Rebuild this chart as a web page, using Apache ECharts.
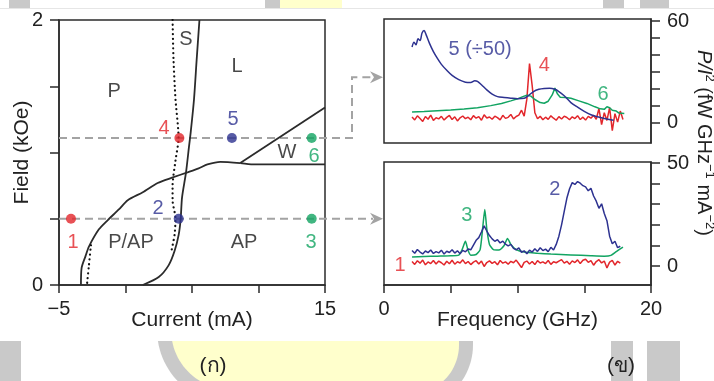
<!DOCTYPE html>
<html>
<head>
<meta charset="utf-8">
<script src="https://cdn.jsdelivr.net/npm/echarts@6/dist/echarts.min.js"></script>
<style>
  html, body { margin: 0; padding: 0; background: #ffffff; }
  #chart { width: 714px; height: 381px; }
</style>
</head>
<body>
<div id="chart"></div>
<script>
// ---------------- data ----------------
// Phase diagram: measurement points (current in mA, field in kOe)
const pointTags = ['1', '2', '3', '4', '5', '6'];
const pointCurrent = [-4.1, 4.0, 14.0, 4.05, 8.0, 14.0];
const pointField = [0.5, 0.5, 0.5, 1.11, 1.11, 1.11];
const fieldLow = 0.5;
const fieldHigh = 1.11;

// Phase boundaries [current, field]
const boundaryLeft = [[5.56, 2.0], [5.35, 1.7], [5.15, 1.4], [4.9, 1.15], [4.77, 1.04], [4.55, 0.85],
  [4.25, 0.66], [4.15, 0.5], [4.0, 0.38], [3.7, 0.26], [3.25, 0.15], [2.5, 0.06], [1.3, 0]];
const boundaryLower = [[-3.35, 0], [-3.3, 0.13], [-3.0, 0.22], [-2.75, 0.29], [-2.0, 0.42], [-1.33, 0.49],
  [-0.5, 0.57], [0.17, 0.64], [1.3, 0.7], [2.42, 0.77], [3.5, 0.81], [4.66, 0.85], [5.5, 0.88],
  [6.16, 0.91], [7.13, 0.93], [8.63, 0.92]];
const boundaryFlat = [[8.63, 0.92], [9.6, 0.91], [15, 0.91]];
const boundaryDiagonal = [[8.63, 0.92], [15, 1.34]];
const dottedUpper = [[3.54, 2.0], [3.61, 1.7], [3.76, 1.4], [3.99, 1.11], [3.76, 0.94], [3.54, 0.75],
  [3.54, 0.64], [3.76, 0.5], [3.69, 0.38], [3.46, 0.26]];
const dottedLower = [[-2.6, 0.30], [-2.75, 0.15], [-2.9, 0]];

// Region names inside the phase diagram
const regionNames = ['P', 'S', 'L', 'W', 'P/AP', 'AP'];
const regionCurrent = [-0.86, 4.55, 8.38, 12.14, 0.41, 8.91];
const regionField = [1.46, 1.85, 1.65, 1.0, 0.32, 0.32];
const tagCurrent = [-3.95, 2.44, 13.95, 2.89, 8.08, 14.17];
const tagField = [0.32, 0.58, 0.32, 1.18, 1.25, 0.97];

// Spectra: sweep frequencies (GHz) of the noisy traces
const sweepGHz = [2.1, 2.3, 2.5, 2.7, 2.9, 3.1, 3.3, 3.5, 3.7, 3.9, 4.1, 4.3, 4.5, 4.7, 4.9, 5.1, 5.3, 5.5, 5.7, 5.9,
  6.1, 6.3, 6.5, 6.7, 6.9, 7.1, 7.3, 7.5, 7.7, 7.9, 8.1, 8.3, 8.5, 8.7, 8.9, 9.1, 9.3, 9.5, 9.7, 9.9,
  10.1, 10.3, 10.5, 10.7, 10.9, 11.1, 11.3, 11.5, 11.7, 11.9, 12.1, 12.3, 12.5, 12.7, 12.9, 13.1, 13.3, 13.5, 13.7, 13.9,
  14.1, 14.3, 14.5, 14.7, 14.9, 15.1, 15.3, 15.5, 15.7, 15.9, 16.1, 16.3, 16.5, 16.7, 16.9, 17.1, 17.3, 17.5, 17.7, 17.9];

// Upper spectra (points 4, 5, 6)
const trace4 = [3.5, 1.8, 4.2, 2.6, 0.9, 3.8, 2.2, 4.6, 1.5, 3.1,
  2.4, 3.9, 1.7, 3.3, 4.4, 2.0, 3.6, 1.2, 3.0, 4.1,
  2.5, 3.4, 1.9, 4.3, 2.8, 3.7, 1.6, 4.8, 2.9, 3.5,
  2.2, 4.0, 3.1, 1.8, 4.5, 2.7, 3.3, 5.0, 2.4, 3.8,
  4.6, 7.5, 4.0, 14.0, 35.0, 22.0, 6.0, 2.5, 3.9, 1.9,
  3.4, 2.1, 4.2, 2.8, 1.6, 3.7, 2.3, 4.0, 3.2, 1.9,
  3.6, 2.6, 4.3, 2.0, 3.4, 1.7, 3.9, 2.8, 4.5, 2.2,
  8.5, -1.0, 6.0, 1.5, 9.0, -4.5, 5.5, 0.5, 7.0, 2.0];
const trace5 = [[2.1, 44.7], [2.25, 47.5], [2.4, 46], [2.55, 49.5], [2.7, 48.5], [2.85, 53], [3.0, 54.5],
  [3.15, 52], [3.4, 47], [3.7, 42], [4.0, 38], [4.3, 34.5], [4.7, 31], [5.1, 28], [5.6, 25.5], [6.1, 24],
  [6.5, 23.8], [6.8, 24.8], [7.0, 24.5], [7.3, 22.5], [7.7, 19.5], [8.1, 17], [8.5, 15.5], [9.0, 15],
  [9.5, 14.6], [10.0, 14.3], [10.5, 14.5], [10.8, 16], [11.2, 18.5], [11.6, 19.8], [12.0, 20.3],
  [12.4, 20.4], [12.8, 19.8], [13.1, 18.5], [13.5, 16], [14.0, 12], [14.5, 9.3], [15.0, 6.8],
  [15.5, 4.8], [16.0, 3.6], [16.5, 2.6], [17.2, 1.6]];
const trace6 = [[2.1, 6.5], [3.0, 6.8], [4.0, 7.2], [5.0, 7.6], [6.0, 8.2], [7.0, 9.0], [8.0, 10.2],
  [8.8, 11.5], [9.5, 13.0], [10.0, 14.2], [10.4, 15.5], [10.7, 16.3], [11.0, 15.8], [11.3, 13.8],
  [11.7, 12.0], [12.0, 11.6], [12.3, 12.8], [12.6, 16.5], [12.8, 20.5], [13.0, 17.0], [13.2, 15.2],
  [13.6, 15.0], [14.0, 14.5], [14.6, 13.0], [15.2, 11.5], [15.8, 9.5], [16.2, 8.3], [16.5, 8.0],
  [16.7, 9.5], [16.9, 9.0], [17.1, 7.5], [17.4, 7.0], [17.6, 5.8], [18.0, 5.5]];

// Lower spectra (points 1, 2, 3)
const trace1 = [2.2, 0.8, 2.6, 1.4, 2.9, 0.6, 2.0, 1.2, 2.7, 1.0,
  2.4, 1.6, 0.5, 2.3, 1.1, 2.8, 0.9, 2.1, 1.5, 3.0,
  1.2, 2.2, 0.7, 1.9, 2.6, 1.0, 2.4, -0.2, 1.7, 2.5,
  1.3, 2.1, 0.6, 2.7, 1.4, 2.0, 0.9, 2.3, 1.6, 2.9,
  1.1, -0.8, 1.8, 2.4, 1.0, 2.2, 0.7, 2.6, 1.5, 2.0,
  1.2, 2.7, 0.8, 2.1, 1.6, 2.4, 3.1, 1.4, 2.3, 0.9,
  2.5, 1.7, 3.0, 1.2, 2.8, 3.3, 1.8, 2.6, 0.4, 2.2,
  3.1, 1.5, 2.4, -0.9, 1.9, 2.7, 0.5, 2.3, 1.4];
const trace2 = [7.5, 6.2, 8.0, 6.8, 5.9, 7.3, 6.5, 7.8, 6.1, 7.0,
  6.4, 7.7, 5.8, 7.2, 6.6, 7.9, 6.3, 7.4, 6.0, 7.6,
  6.9, 8.3, 7.9, 10.2, 12.5, 13.8, 16.5, 19.5, 17.0, 14.8,
  13.2, 12.0, 12.8, 11.2, 12.1, 10.6, 9.8, 10.5, 8.6, 7.9,
  8.8, 6.7, 7.4, 6.0, 7.7, 6.8, 8.4, 7.1, 8.9, 7.5,
  8.2, 7.0, 9.1, 7.8, 10.5, 14.5, 20.0, 26.5, 33.0, 37.5,
  40.5, 39.6, 41.0, 40.2, 39.0, 38.4, 36.5, 37.8, 34.0, 31.5,
  28.0, 30.2, 25.5, 22.0, 14.5, 10.8, 12.0, 8.9, 9.6];
const trace3 = [[2.1, 4.4], [3.0, 4.6], [4.0, 4.8], [5.0, 5.0], [5.6, 5.3], [5.85, 8.0], [6.1, 12.0],
  [6.3, 7.5], [6.5, 5.3], [6.9, 5.6], [7.2, 8.0], [7.4, 19.0], [7.55, 27.5], [7.7, 18.0], [7.9, 10.5],
  [8.2, 8.0], [8.6, 7.8], [9.0, 10.0], [9.25, 13.4], [9.5, 10.5], [9.9, 8.0], [10.5, 6.8], [11.5, 6.2],
  [12.5, 5.8], [14.0, 5.4], [15.5, 5.0], [16.5, 4.8], [17.0, 5.2], [17.4, 7.0], [17.9, 9.2]];

// Trace tags [text, GHz, value]
const upperTags = ['5 (\u00f750)', '4', '6'];
const upperTagGHz = [7.2, 12.0, 16.4];
const upperTagValue = [43.5, 34, 17];
const lowerTags = ['2', '3', '1'];
const lowerTagGHz = [12.8, 6.2, 1.2];
const lowerTagValue = [37.4, 24.3, 0.5];

// Labelled ticks
const currentLabelTicks = [-5, 15];
const fieldLabelTicks = [0, 2];
const freqLabelTicks = [0, 20];
const upperPowerTicks = [0, 10, 20, 30, 40, 50, 60];
const upperPowerLabelTicks = [0, 60];
const lowerPowerTicks = [0, 10, 20, 30, 40, 50];
const lowerPowerLabelTicks = [0, 50];

// ---------------- styling ----------------
const RED = '#e2262b';
const BLUE = '#2d3290';
const GREEN = '#12a462';
const INK = '#2b2b2b';
const DASH = '#a3a3a3';
const FONT = "'Liberation Sans', Arial, 'Noto Sans', 'DejaVu Sans', sans-serif";
const tagColors = [RED, BLUE, GREEN, RED, BLUE, GREEN];

const gridLeft = { left: 59, top: 20, width: 266, height: 265 };
const gridUpper = { left: 384, top: 19, width: 267, height: 124 };
const gridLower = { left: 384, top: 162, width: 267, height: 123 };

const axisLineStyle = { color: INK, width: 1.5 };
const labelText = { fontFamily: FONT, fontSize: 20, color: '#222' };
const nameText = { fontFamily: FONT, fontSize: 21, color: '#222' };

function minusFmt(v) { return v < 0 ? '\u2212' + Math.abs(v) : String(v); }
function onlyTicks(list) { return v => (list.indexOf(v) >= 0 ? minusFmt(v) : ''); }
function pairs(xs, ys) { return ys.map((y, i) => [xs[i], y]); }

function boundary(data, dotted) {
  return {
    type: 'line', xAxisIndex: 0, yAxisIndex: 0, data, symbol: 'none', silent: true,
    smooth: 0.25, z: 3,
    lineStyle: dotted
      ? { color: '#111', width: 2.2, type: [0.1, 4.6], cap: 'round' }
      : { color: INK, width: 1.8 }
  };
}
function trace(axis, data, color) {
  return {
    type: 'line', xAxisIndex: axis, yAxisIndex: axis, data, symbol: 'none', silent: true,
    lineStyle: { color, width: 1.5 }, z: 3
  };
}
function tagSeries(axis, names, xs, ys, colors) {
  return {
    type: 'scatter', xAxisIndex: axis, yAxisIndex: axis, silent: true, z: 6,
    symbolSize: 1, itemStyle: { color: 'transparent' },
    data: names.map((n, i) => ({
      name: n, value: [xs[i], ys[i]],
      label: { color: colors ? colors[i] : '#1a1a1a' }
    })),
    label: { show: true, position: 'inside', formatter: '{b}', fontFamily: FONT, fontSize: 20 }
  };
}

const boxGrid = { show: true, borderColor: INK, borderWidth: 1.5, backgroundColor: 'transparent' };
const option = {
  animation: false,
  backgroundColor: '#ffffff',
  textStyle: { fontFamily: FONT },
  grid: [
    Object.assign({}, boxGrid, gridLeft),
    Object.assign({}, boxGrid, gridUpper),
    Object.assign({}, boxGrid, gridLower)
  ],
  xAxis: [
    {
      gridIndex: 0, type: 'value', min: -5, max: 15, interval: 5,
      axisLine: { onZero: false, lineStyle: axisLineStyle },
      axisTick: { length: 8, lineStyle: axisLineStyle },
      axisLabel: Object.assign({ formatter: onlyTicks(currentLabelTicks), margin: 14 }, labelText),
      splitLine: { show: false },
      name: 'Current (mA)', nameLocation: 'middle', nameGap: 25, nameMoveOverlap: false,
      nameTextStyle: nameText
    },
    {
      gridIndex: 1, type: 'value', min: 0, max: 20,
      axisLine: { show: false, onZero: false }, axisTick: { show: false }, axisLabel: { show: false },
      splitLine: { show: false }
    },
    {
      gridIndex: 2, type: 'value', min: 0, max: 20, interval: 5,
      axisLine: { onZero: false, lineStyle: axisLineStyle },
      axisTick: { length: 8, lineStyle: axisLineStyle },
      axisLabel: Object.assign({ formatter: onlyTicks(freqLabelTicks), margin: 14 }, labelText),
      splitLine: { show: false },
      name: 'Frequency (GHz)', nameLocation: 'middle', nameGap: 25, nameMoveOverlap: false,
      nameTextStyle: nameText
    }
  ],
  yAxis: [
    {
      gridIndex: 0, type: 'value', min: 0, max: 2, interval: 0.5,
      axisLine: { onZero: false, lineStyle: axisLineStyle },
      axisTick: { length: 9, lineStyle: axisLineStyle },
      axisLabel: Object.assign({ formatter: onlyTicks(fieldLabelTicks), margin: 16 }, labelText),
      splitLine: { show: false },
      name: 'Field (kOe)', nameLocation: 'middle', nameGap: 26, nameRotate: 90, nameMoveOverlap: false,
      nameTextStyle: nameText
    },
    {
      gridIndex: 1, type: 'value', position: 'right', min: -11.8, max: 61.2,
      axisLine: { show: true, onZero: false, lineStyle: axisLineStyle },
      axisTick: { show: true, length: 9, lineStyle: axisLineStyle, customValues: upperPowerTicks },
      axisLabel: Object.assign({ customValues: upperPowerLabelTicks, margin: 16 }, labelText),
      splitLine: { show: false }
    },
    {
      gridIndex: 2, type: 'value', position: 'right', min: -9.2, max: 50.5,
      axisLine: { show: true, onZero: false, lineStyle: axisLineStyle },
      axisTick: { show: true, length: 9, lineStyle: axisLineStyle, customValues: lowerPowerTicks },
      axisLabel: Object.assign({ customValues: lowerPowerLabelTicks, margin: 16 }, labelText),
      splitLine: { show: false }
    }
  ],
  series: [
    boundary(boundaryLeft, false),
    boundary(boundaryLower, false),
    boundary(boundaryFlat, false),
    boundary(boundaryDiagonal, false),
    boundary(dottedUpper, true),
    boundary(dottedLower, true),
    {
      type: 'scatter', xAxisIndex: 0, yAxisIndex: 0, silent: true, z: 5, symbolSize: 10,
      data: pointTags.map((t, i) => ({ value: [pointCurrent[i], pointField[i]], itemStyle: { color: tagColors[i] } }))
    },
    tagSeries(0, regionNames, regionCurrent, regionField, null),
    tagSeries(0, pointTags, tagCurrent, tagField, tagColors),
    trace(1, pairs(sweepGHz, trace4), RED),
    trace(1, trace6, GREEN),
    Object.assign(trace(1, trace5, BLUE), { smooth: 0.3 }),
    tagSeries(1, upperTags, upperTagGHz, upperTagValue, [BLUE, RED, GREEN]),
    trace(2, pairs(sweepGHz, trace1), RED),
    Object.assign(trace(2, trace3, GREEN), { smooth: 0.2 }),
    trace(2, pairs(sweepGHz, trace2), BLUE),
    tagSeries(2, lowerTags, lowerTagGHz, lowerTagValue, [BLUE, GREEN, RED])
  ]
};

const chart = echarts.init(document.getElementById('chart'), null, { renderer: 'canvas' });
chart.setOption(option);

// ---------------- page decoration and connectors ----------------
const GREY = '#c9c9c9';
const CREAM = '#ffffcc';

// outline of the rounded cream panel at the foot of the page (only its lower part is visible)
function roundedFoot(inset) {
  const topY = 341;
  const left = { cx: 230.6, cy: 330, r: 73.5 - inset };
  const right = { cx: 409.7, cy: 345, r: 63.3 - inset };
  const pts = [];
  const a0 = Math.PI - Math.asin((topY - left.cy) / left.r);
  for (let k = 0; k <= 24; k++) {
    const a = a0 + (Math.PI / 2 - a0) * k / 24;
    pts.push([left.cx + left.r * Math.cos(a), left.cy + left.r * Math.sin(a)]);
  }
  for (let k = 0; k <= 24; k++) {
    const a = Math.PI / 2 - (Math.PI / 2) * k / 24;
    pts.push([right.cx + right.r * Math.cos(a), right.cy + right.r * Math.sin(a)]);
  }
  pts.push([right.cx + right.r, topY]);
  return pts;
}

const decor = [
  { type: 'rect', z: 0, shape: { x: 9, y: 0, width: 21, height: 8 }, style: { fill: GREY } },
  { type: 'rect', z: 0, shape: { x: 265, y: 0, width: 15, height: 8 }, style: { fill: GREY } },
  { type: 'rect', z: 0, shape: { x: 280, y: 0, width: 62, height: 8 }, style: { fill: CREAM } },
  { type: 'rect', z: 0, shape: { x: 603, y: 0, width: 21, height: 8 }, style: { fill: GREY } },
  { type: 'rect', z: 0, shape: { x: 640, y: 0, width: 29, height: 8 }, style: { fill: GREY } },
  { type: 'line', z: 0, shape: { x1: 0, y1: 8.5, x2: 714, y2: 8.5 }, style: { stroke: '#e6e6e6', lineWidth: 1 } },
  { type: 'rect', z: 0, shape: { x: 0, y: 341, width: 21, height: 40 }, style: { fill: GREY } },
  { type: 'rect', z: 0, shape: { x: 611, y: 341, width: 22, height: 40 }, style: { fill: GREY } },
  { type: 'rect', z: 0, shape: { x: 647, y: 341, width: 33, height: 40 }, style: { fill: GREY } },
  { type: 'polygon', z: 0, shape: { points: roundedFoot(0) }, style: { fill: GREY } },
  { type: 'polygon', z: 0, shape: { points: roundedFoot(14) }, style: { fill: CREAM } },
  {
    type: 'text', z: 10, x: 213, y: 366,
    style: { text: '(\u0e01)', fontFamily: FONT, fontSize: 21, fill: '#222', align: 'center', verticalAlign: 'middle', textAlign: 'center', textVerticalAlign: 'middle' }
  },
  {
    type: 'text', z: 10, x: 621, y: 366,
    style: { text: '(\u0e02)', fontFamily: FONT, fontSize: 21, fill: '#222', align: 'center', verticalAlign: 'middle', textAlign: 'center', textVerticalAlign: 'middle' }
  },
  {
    type: 'text', z: 10, x: 704, y: 143, rotation: -Math.PI / 2,
    style: {
      text: '{it|P/I}{sup|2}{n| (fW GHz}{sup|\u22121}{n| mA}{sup|\u22122}{n|)}',
      align: 'center', verticalAlign: 'middle', textAlign: 'center', textVerticalAlign: 'middle',
      fill: '#222',
      rich: {
        it: { fontFamily: FONT, fontSize: 20, fontStyle: 'italic', color: '#222', lineHeight: 24 },
        n: { fontFamily: FONT, fontSize: 20, color: '#222', lineHeight: 24 },
        sup: { fontFamily: FONT, fontSize: 13, color: '#222', verticalAlign: 'top', lineHeight: 24 }
      }
    }
  }
];

// dashed guides from the measurement fields to the spectra panels
const hiStart = chart.convertToPixel({ xAxisIndex: 0, yAxisIndex: 0 }, [-5, fieldHigh]);
const loStart = chart.convertToPixel({ xAxisIndex: 0, yAxisIndex: 0 }, [-5, fieldLow]);
const bendX = gridLeft.left + gridLeft.width + 27;
const tipX = gridUpper.left - 1;
const upperArrowY = gridUpper.top + gridUpper.height * 0.47;
const dashStyle = { stroke: DASH, lineWidth: 2, lineDash: [8, 5], fill: 'none' };
function arrowHead(y) {
  return { type: 'polygon', z: 1, shape: { points: [[tipX, y], [tipX - 13, y - 6], [tipX - 9, y], [tipX - 13, y + 6]] }, style: { fill: DASH } };
}
decor.push(
  { type: 'polyline', z: 1, shape: { points: [hiStart, [bendX, hiStart[1]], [bendX, upperArrowY], [tipX - 10, upperArrowY]] }, style: dashStyle },
  arrowHead(upperArrowY),
  { type: 'polyline', z: 1, shape: { points: [loStart, [tipX - 10, loStart[1]]] }, style: dashStyle },
  arrowHead(loStart[1])
);

chart.setOption({ graphic: { elements: decor } });
</script>
</body>
</html>
